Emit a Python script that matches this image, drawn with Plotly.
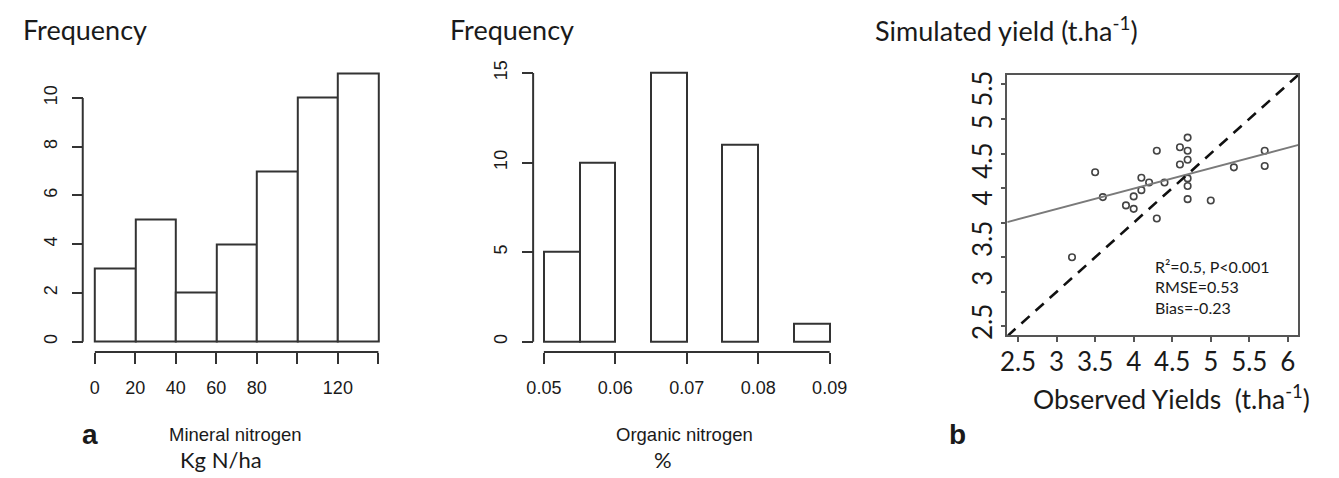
import numpy as np
import plotly.graph_objects as go

W, H = 1339, 478

# ---- panel a: mineral nitrogen histogram (kg N/ha) ----
min_n_edges = [0, 20, 40, 60, 80, 100, 120, 140]
min_n_counts = [3, 5, 2, 4, 7, 10, 11]
min_n_labelled = [0, 20, 40, 60, 80, 120]
min_n_unlabelled = [100, 140]
min_freq_ticks = [0, 2, 4, 6, 8, 10]

# ---- panel b: organic nitrogen histogram (%) ----
org_n_edges = [0.050, 0.055, 0.060, 0.065, 0.070, 0.075, 0.080, 0.085, 0.090]
org_n_counts = [5, 10, 0, 15, 0, 11, 0, 1]
org_n_ticks = [0.05, 0.06, 0.07, 0.08, 0.09]
org_n_ticktext = ["0.05", "0.06", "0.07", "0.08", "0.09"]
org_freq_ticks = [0, 5, 10, 15]

# ---- panel b (right): observed vs simulated yield (t/ha) ----
observed = [3.2, 3.5, 3.6, 3.9, 4.0, 4.0, 4.1, 4.1, 4.2, 4.3, 4.3, 4.4,
            4.6, 4.6, 4.7, 4.7, 4.7, 4.7, 4.7, 4.7, 5.0, 5.3, 5.7, 5.7]
simulated = [3.50, 4.73, 4.37, 4.25, 4.20, 4.38, 4.65, 4.47, 4.58, 5.04, 4.06, 4.58,
             5.09, 4.84, 5.23, 5.04, 4.91, 4.64, 4.53, 4.34, 4.32, 4.80, 5.04, 4.82]
yield_ticks = [2.5, 3.0, 3.5, 4.0, 4.5, 5.0, 5.5, 6.0]
yield_ticktext = ["2.5", "3", "3.5", "4", "4.5", "5", "5.5", "6"]
sim_label_pos = [2.51, 3.14, 3.71, 4.30, 4.84, 5.40, 5.88]
sim_label_text = ["2.5", "3", "3.5", "4", "4.5", "5", "5.5"]
fit_intercept = 3.312
fit_slope = 0.295
yield_range = [2.36, 6.14]
stats_lines = ["R²=0.5, P&lt;0.001", "RMSE=0.53", "Bias=-0.23"]

ARIAL = "Liberation Sans, Arial, sans-serif"
CALIBRI = "Lato, Carlito, sans-serif"
INK = "#1a1a1a"
AX = "#333333"


def fx(px):
    return px / W


def fy(py):
    return 1 - py / H


def span(v0, p0, v1, p1, r0, r1):
    """Pixel span covered by data range [r0, r1] given two anchor points."""
    k = (p1 - p0) / (v1 - v0)
    return p0 + (r0 - v0) * k, p0 + (r1 - v0) * k


fig = go.Figure()


def histogram(edges, counts, xa, ya):
    edges = np.asarray(edges, dtype=float)
    centers = (edges[:-1] + edges[1:]) / 2
    widths = np.diff(edges)
    keep = np.asarray(counts) > 0
    fig.add_trace(go.Bar(
        x=centers[keep], y=np.asarray(counts)[keep], width=widths[keep],
        marker=dict(color="white", line=dict(color=AX, width=2)),
        xaxis=xa, yaxis=ya, showlegend=False, hoverinfo="x+y"))


histogram(min_n_edges, min_n_counts, "x", "y")
histogram(org_n_edges, org_n_counts, "x2", "y2")

# scatter of yields
fig.add_trace(go.Scatter(
    x=observed, y=simulated, mode="markers",
    marker=dict(symbol="circle-open", size=6.5, color="#444", line=dict(width=1.6)),
    xaxis="x3", yaxis="y3", showlegend=False))

# linear fit
fit_x = np.array(yield_range)
fig.add_trace(go.Scatter(
    x=fit_x, y=fit_intercept + fit_slope * fit_x, mode="lines",
    line=dict(color="#7a7a7a", width=1.8),
    xaxis="x3", yaxis="y3", showlegend=False, hoverinfo="skip"))

# 1:1 line
fig.add_trace(go.Scatter(
    x=yield_range, y=yield_range, mode="lines",
    line=dict(color="#111", width=2.6, dash="11px,8px"),
    xaxis="x3", yaxis="y4", showlegend=False, hoverinfo="skip"))

# ---- axis geometry ----
ax_a_x = (-3, 143)
ax_a_y = (-0.25, 11.25)
xa_px = span(0, 81.7, 140, 371.7, *ax_a_x)
ya_px = span(0, 343.3, 10, 93.3, *ax_a_y)

ax_b_x = (0.0496, 0.0904)
ax_b_y = (-0.3, 15.3)
xb_px = span(0.05, 541, 0.09, 833.3, *ax_b_x)
yb_px = span(0, 343.3, 15, 67.7, *ax_b_y)

x_c_px = (1015, 1312.5)
y_c_px = (336.7, 69.3)
x_c_range = [2.36, 6.133]
y_c_range = [2.373, 6.141]

tick_font = dict(family=ARIAL, size=18, color=INK)
common = dict(showgrid=False, zeroline=False, showline=False,
              ticks="outside", ticklen=11, tickwidth=2, tickcolor=AX,
              tickfont=tick_font)

fig.update_layout(
    width=W, height=H,
    margin=dict(l=0, r=0, t=0, b=0),
    paper_bgcolor="white", plot_bgcolor="white",
    bargap=0,
    xaxis=dict(domain=[fx(xa_px[0]), fx(xa_px[1])], range=list(ax_a_x),
               anchor="free", position=fy(354), tickvals=min_n_labelled,
               ticklabelstandoff=8,
               # bin edges whose labels R dropped for lack of room
               minor=dict(tickvals=min_n_unlabelled, ticks="outside", ticklen=11,
                          tickwidth=2, tickcolor=AX, showgrid=False),
               **common),
    yaxis=dict(domain=[fy(ya_px[0]), fy(ya_px[1])], range=list(ax_a_y),
               anchor="free", position=fx(69.3), tickvals=min_freq_ticks,
               tickangle=-90, ticklabelstandoff=8, **common),
    xaxis2=dict(domain=[fx(xb_px[0]), fx(xb_px[1])], range=list(ax_b_x),
                anchor="free", position=fy(354), tickvals=org_n_ticks,
                ticktext=org_n_ticktext, ticklabelstandoff=8, **common),
    yaxis2=dict(domain=[fy(yb_px[0]), fy(yb_px[1])], range=list(ax_b_y),
                anchor="free", position=fx(530), tickvals=org_freq_ticks,
                tickangle=-90, ticklabelstandoff=8, **common),
    xaxis3=dict(domain=[fx(x_c_px[0]), fx(x_c_px[1])], range=x_c_range,
                anchor="y3", showgrid=False, zeroline=False,
                showline=True, mirror=True, linecolor="#555", linewidth=1.5,
                ticks="outside", ticklen=5, tickwidth=1.5, tickcolor="#555",
                tickvals=yield_ticks, ticktext=yield_ticktext,
                tickfont=dict(family=CALIBRI, size=26, color=INK),
                ticklabelstandoff=-2),
    yaxis3=dict(domain=[fy(y_c_px[0]), fy(y_c_px[1])], range=y_c_range,
                anchor="x3", showgrid=False, zeroline=False,
                showline=True, mirror=True, linecolor="#555", linewidth=1.5,
                ticks="outside", ticklen=5, tickwidth=1.5, tickcolor="#555",
                tickvals=yield_ticks, showticklabels=False),
    yaxis4=dict(domain=[fy(y_c_px[0]), fy(y_c_px[1])], range=y_c_range,
                overlaying="y3", anchor="x3", side="left",
                showgrid=False, zeroline=False, showline=False, ticks="",
                tickvals=sim_label_pos, ticktext=sim_label_text, tickangle=-90,
                tickfont=dict(family=CALIBRI, size=26, color=INK),
                ticklabelstandoff=9),
)

# detached R-style axis lines spanning only the tick range
line_style = dict(color=AX, width=2)
fig.add_shape(type="line", xref="x", yref="paper", x0=min_n_edges[0], x1=min_n_edges[-1],
              y0=fy(354), y1=fy(354), line=line_style)
fig.add_shape(type="line", xref="paper", yref="y", x0=fx(69.3), x1=fx(69.3),
              y0=min_freq_ticks[0], y1=min_freq_ticks[-1], line=line_style)
fig.add_shape(type="line", xref="x2", yref="paper", x0=org_n_ticks[0], x1=org_n_ticks[-1],
              y0=fy(354), y1=fy(354), line=line_style)
fig.add_shape(type="line", xref="paper", yref="y2", x0=fx(530), x1=fx(530),
              y0=org_freq_ticks[0], y1=org_freq_ticks[-1], line=line_style)


def label(text, px, py, family, size, xanchor="center", bold=False):
    fig.add_annotation(
        text=f"<b>{text}</b>" if bold else text,
        x=fx(px), y=fy(py), xref="paper", yref="paper",
        xanchor=xanchor, yanchor="middle", showarrow=False,
        font=dict(family=family, size=size, color=INK))


label("Frequency", 6, 23, CALIBRI, 27, xanchor="left")
label("Frequency", 443, 23, CALIBRI, 27, xanchor="left")
label("Simulated yield (t.ha<sup>-1</sup>)", 878, 23, CALIBRI, 27, xanchor="left")

label("a", 76.5, 438, ARIAL, 28, bold=True)
label("Mineral nitrogen", 225.5, 438, ARIAL, 18.5)
label("Kg N/ha", 211, 464, CALIBRI, 22)

label("Organic nitrogen", 685, 438, ARIAL, 18.5)
label("%", 663, 464, CALIBRI, 22)

label("b", 964, 438, ARIAL, 28, bold=True)
label("Observed Yields  (t.ha<sup>-1</sup>)", 1182.5, 401, CALIBRI, 26.5)

for i, line in enumerate(stats_lines):
    label(line, 1164, 266 + 21 * i, CALIBRI, 16, xanchor="left")

fig.write_html("out.html")
